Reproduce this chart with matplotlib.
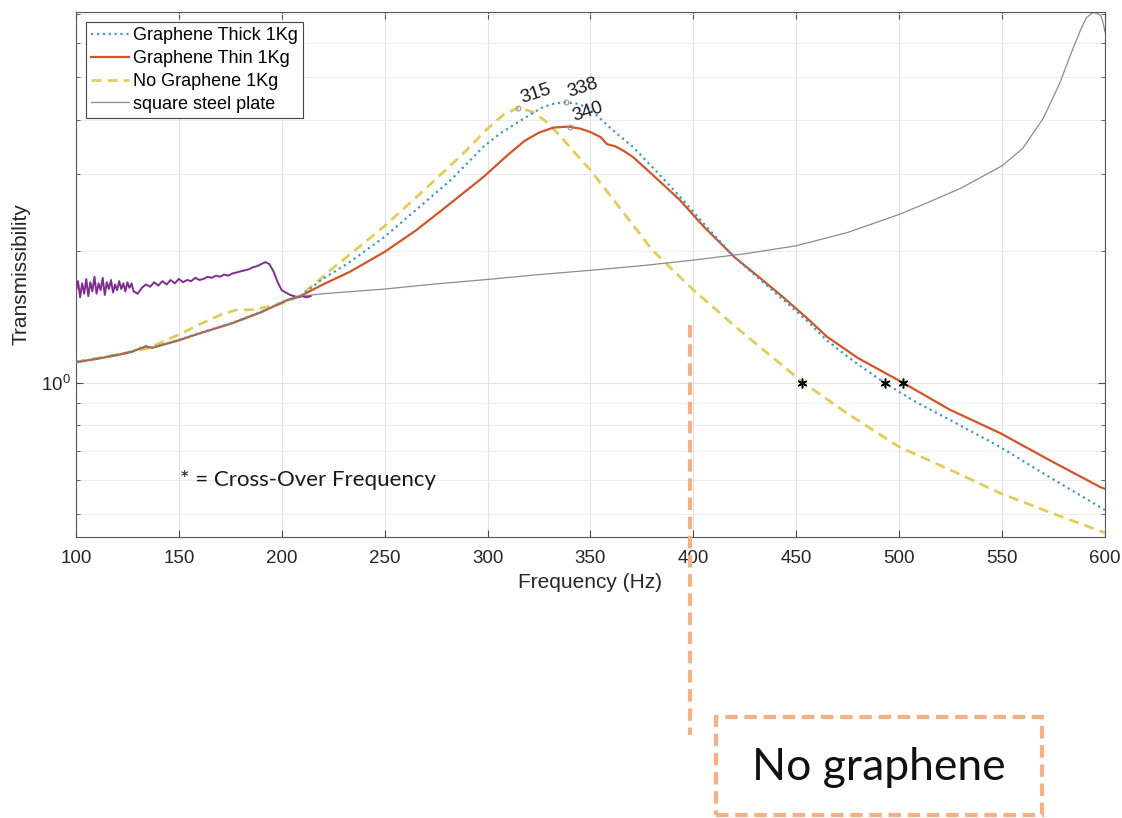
import numpy as np
import matplotlib
matplotlib.use("Agg")
import matplotlib.pyplot as plt
from matplotlib.lines import Line2D
from matplotlib.patches import Rectangle
from matplotlib.ticker import NullFormatter

# frequency (Hz) / transmissibility
freq_common = [100, 110, 120, 127, 131, 134, 137, 141, 150, 160, 176, 190, 202.5, 209]
thick_lo = [1.117, 1.137, 1.16, 1.18, 1.20, 1.215, 1.205, 1.22, 1.255, 1.301, 1.372, 1.454, 1.548, 1.582]
thin_lo = [1.115, 1.135, 1.158, 1.178, 1.198, 1.212, 1.203, 1.218, 1.252, 1.298, 1.37, 1.452, 1.546, 1.58]

freq_thick = [220, 233, 250, 267, 282, 298, 306, 314, 321, 327, 332, 337, 343, 348, 353, 360, 370.6,
              382, 395, 407, 420, 432, 443.5, 455, 465, 478, 493, 508, 524.7, 549, 573, 597.6, 600]
thick_hi = [1.73, 1.89, 2.16, 2.53, 2.91, 3.47, 3.72, 3.93, 4.12, 4.28, 4.35, 4.39, 4.36, 4.28, 4.10,
            3.82, 3.47, 3.05, 2.62, 2.26, 1.94, 1.73, 1.553, 1.39, 1.25, 1.12, 1.0, 0.905, 0.823,
            0.714, 0.609, 0.520, 0.512]

freq_thin = [220, 233, 250, 265, 278, 298, 310, 318, 325, 332, 339, 345, 350, 355, 358, 362, 366,
             370.6, 380, 393.5, 405, 420, 432, 443.5, 455, 465, 480, 502, 524.7, 549, 573, 597.6, 600]
thin_hi = [1.68, 1.795, 1.995, 2.23, 2.49, 2.96, 3.33, 3.58, 3.74, 3.84, 3.86, 3.82, 3.75, 3.65, 3.52,
           3.48, 3.40, 3.29, 3.0, 2.62, 2.28, 1.94, 1.745, 1.573, 1.41, 1.275, 1.14, 1.0, 0.868,
           0.768, 0.666, 0.578, 0.572]

freq_nog = [100, 120, 135, 150, 160, 170, 178, 185, 192, 200, 209, 225, 240, 250, 265, 275, 290,
            300, 308, 315, 322, 328, 335, 342, 350, 365, 380, 400, 420, 440, 453, 475, 500, 525,
            550, 575, 600]
nog = [1.117, 1.16, 1.20, 1.29, 1.36, 1.43, 1.47, 1.47, 1.49, 1.52, 1.582, 1.833, 2.091, 2.287, 2.651,
       2.93, 3.415, 3.82, 4.12, 4.26, 4.17, 3.98, 3.69, 3.38, 3.07, 2.489, 2.015, 1.633, 1.35, 1.129,
       1.005, 0.85, 0.714, 0.632, 0.557, 0.502, 0.454]

# steel plate: noisy low band (purple) and the rest (grey)
freq_steel_lo = [100, 101, 102, 103, 104, 105, 106, 107, 108, 109, 110, 111, 112, 113, 114, 115, 116,
                 117, 118, 119, 120, 121, 122, 123, 124, 125, 126, 127, 128, 130, 132, 134, 136, 138,
                 140, 142, 144, 146, 148, 150, 152, 154, 156, 158, 160, 162, 164, 166, 168, 170, 172,
                 174, 176, 178, 180, 182, 184, 186, 188, 190, 192, 194, 196, 198, 200, 202, 204, 206,
                 208, 210, 212, 214]
steel_lo = [1.62, 1.71, 1.57, 1.69, 1.60, 1.73, 1.58, 1.70, 1.62, 1.75, 1.60, 1.69, 1.63, 1.74, 1.59,
            1.70, 1.64, 1.72, 1.61, 1.68, 1.63, 1.71, 1.64, 1.69, 1.62, 1.70, 1.65, 1.69, 1.62, 1.60,
            1.65, 1.68, 1.66, 1.70, 1.67, 1.71, 1.68, 1.72, 1.69, 1.73, 1.70, 1.72, 1.71, 1.74, 1.72,
            1.73, 1.75, 1.74, 1.76, 1.75, 1.77, 1.76, 1.78, 1.79, 1.80, 1.81, 1.82, 1.84, 1.85, 1.87,
            1.89, 1.87, 1.80, 1.70, 1.63, 1.61, 1.59, 1.58, 1.57, 1.58, 1.57, 1.58]
freq_steel = [210, 220, 250, 275, 300, 325, 350, 375, 400, 425, 450, 475, 500, 515, 530, 550, 560,
              570, 578, 584, 588, 591, 594, 596, 598, 599, 600]
steel = [1.58, 1.60, 1.64, 1.685, 1.725, 1.77, 1.81, 1.855, 1.91, 1.975, 2.06, 2.21, 2.43, 2.60, 2.79,
         3.14, 3.44, 4.03, 4.85, 5.75, 6.40, 6.85, 7.04, 7.02, 6.92, 6.70, 6.36]

peak_freq = [315, 338, 340]
peak_val = [4.26, 4.39, 3.86]
peak_text = ["315", "338", "340"]
cross_freq = [453, 493, 502]

c_thick = "#3f9bc4"
c_thin = "#d0562a"
c_nog = "#e2cc5e"
c_steel = "#8c8c8c"
c_purple = "#7e2f8e"
c_call = "#f4b183"

plt.rcParams['font.family'] = ['Liberation Sans', 'DejaVu Sans']

fig = plt.figure(figsize=(11.22, 8.18), dpi=100)
ax = fig.add_axes([0.0677, 0.3435, 0.9171, 0.6418])

ax.plot(freq_common + freq_thick, thick_lo + thick_hi, ls=":", color=c_thick, lw=1.6,
        label="Graphene Thick 1Kg", zorder=4)
ax.plot(freq_common + freq_thin, thin_lo + thin_hi, ls="-", color=c_thin, lw=1.6,
        label="Graphene Thin 1Kg", zorder=3)
ax.plot(freq_nog, nog, color=c_nog, lw=2.0, dashes=(3.6, 2.2), label="No Graphene 1Kg", zorder=2)
ax.plot(freq_steel, steel, color=c_steel, lw=0.9, label="square steel plate", zorder=2)
ax.plot(freq_steel_lo, steel_lo, color=c_purple, lw=1.4, zorder=2)

ax.plot(cross_freq, [1.0] * len(cross_freq), ls="none", marker=(6, 2, 0), ms=7,
        mec="black", mew=1.1, zorder=6)

for f, v, t in zip(peak_freq, peak_val, peak_text):
    ax.plot([f], [v], "o", ms=3.5, mfc="none", mec="#999999", mew=0.8, zorder=6)
    ax.annotate(t, (f, v), xytext=(0, 1), textcoords="offset points", rotation=18,
                fontsize=13.5, color="#1a1a1a", ha="left", va="bottom", zorder=7)

ax.set_yscale("log")
ax.set_xlim(100, 600)
ax.set_ylim(0.444, 7.06)
ax.set_xticks(np.arange(100, 601, 50))
ax.yaxis.set_minor_formatter(NullFormatter())
ax.grid(True, which="major", color="#e3e3e3", lw=0.8)
ax.grid(True, which="minor", axis="y", color="#ececec", lw=0.7)
ax.set_axisbelow(True)
ax.tick_params(which="both", direction="in", top=True, right=True, colors="#4d4d4d",
               labelcolor="#262626", labelsize=13.5)
ax.tick_params(which="major", length=5)
ax.tick_params(which="minor", length=3)
ax.tick_params(axis="x", pad=9)
for s in ax.spines.values():
    s.set_color("#555555")
    s.set_linewidth(0.8)

ax.set_xlabel("Frequency (Hz)", fontsize=15, color="#262626", labelpad=5)
ax.set_ylabel("Transmissibility", fontsize=15, color="#262626", labelpad=8)

leg = ax.legend(loc="upper left", bbox_to_anchor=(0.0097, 0.981), borderaxespad=0, fontsize=13,
                frameon=True, fancybox=False, framealpha=1, edgecolor="#444444",
                handlelength=2.1, handletextpad=0.2, labelspacing=0.32, borderpad=0.3)
leg.get_frame().set_linewidth(0.8)

fig.text(180 / 1122, 1 - 480 / 818, "* = Cross-Over Frequency", family="Lato", fontsize=16,
         color="#1a1a1a", va="center", ha="left")

# "No graphene" callout
fig.add_artist(Line2D([690 / 1122, 690 / 1122], [1 - 325 / 818, 1 - 735 / 818], color=c_call, lw=3,
                      dashes=(3, 1.6), transform=fig.transFigure))
fig.add_artist(Rectangle((716 / 1122, 1 - 815 / 818), 326 / 1122, 98 / 818, fill=False,
                         ec=c_call, lw=3, ls=(0, (3, 1.6)), transform=fig.transFigure))
fig.text(879 / 1122, 1 - 768 / 818, "No graphene", family="Lato", fontsize=32, color="#111111",
         ha="center", va="center")

fig.savefig("out.png", dpi=100)
